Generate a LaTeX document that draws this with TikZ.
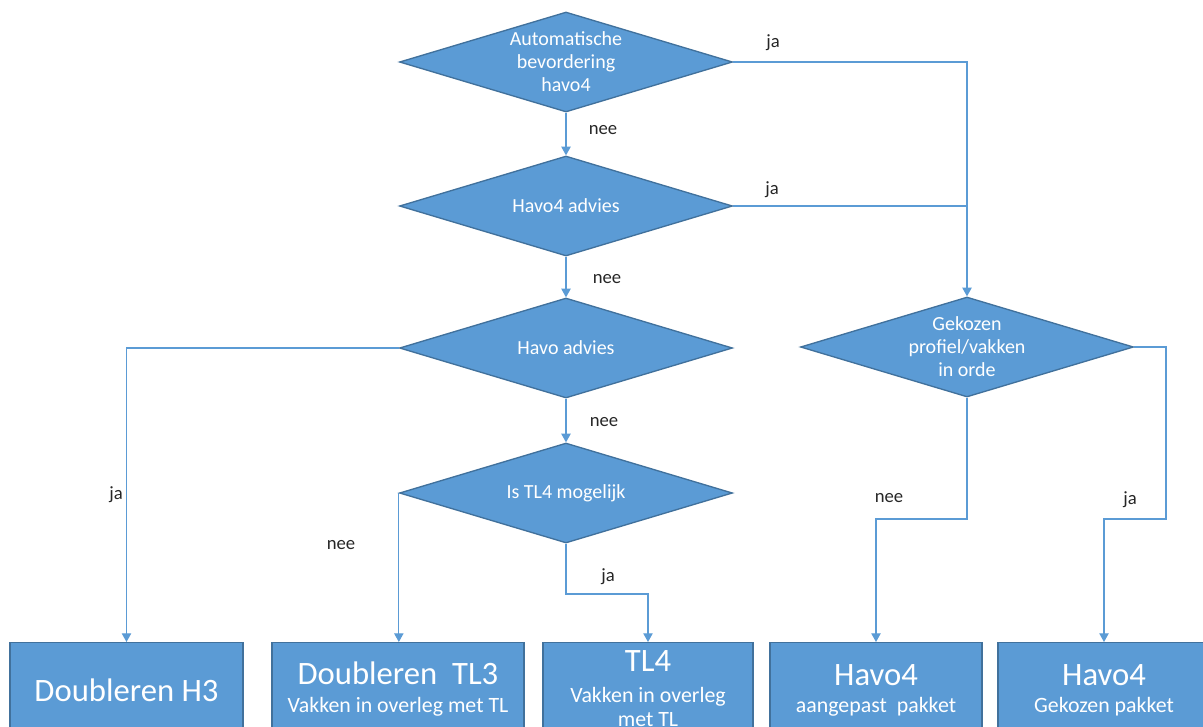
\documentclass[tikz,border=0pt]{standalone}
\usepackage{fontspec}
\setmainfont{Carlito}
\usetikzlibrary{shapes.geometric,arrows.meta}
\definecolor{boxblue}{HTML}{5B9BD5}
\definecolor{edgeblue}{HTML}{41719C}
\begin{document}
\begin{tikzpicture}[x=0.75pt,y=-0.75pt,
 dec/.style={diamond, shape aspect=3.33, fill=boxblue, draw=edgeblue, line width=1pt, minimum width=249.75pt, minimum height=75pt, inner sep=0pt, align=center, text=white, font=\fontsize{15}{17.3}\selectfont},
 outbox/.style={rectangle, fill=boxblue, draw=edgeblue, line width=1pt, anchor=north, minimum height=90pt, inner sep=0pt},
 bigtxt/.style={text=white, font=\fontsize{24.5}{28}\selectfont, inner sep=0pt},
 smalltxt/.style={text=white, font=\fontsize{16.4}{18}\selectfont, inner sep=0pt, align=center},
 lab/.style={text=black!85, font=\fontsize{14}{16}\selectfont, inner sep=0pt},
 conn/.style={draw=boxblue, line width=0.9pt, -{Triangle[width=7pt,length=6.5pt]}},
 wire/.style={draw=boxblue, line width=0.9pt}]
\useasboundingbox (0,0) rectangle (1203,726);
\clip (0,0) rectangle (1203,726);

% decisions
\node[dec] (d1) at (566,62) {Automatische\\bevordering\\havo4};
\node[dec] (d2) at (566,206) {Havo4 advies};
\node[dec] (d3) at (566,348) {Havo advies};
\node[dec] (d4) at (566,493) {Is TL4 mogelijk};
\node[dec] (d5) at (967,347) {Gekozen\\profiel/vakken\\in orde};

% outcome boxes
\node[outbox, minimum width=174.75pt] (b1) at (126.5,642) {};
\node[outbox, minimum width=189pt] (b2) at (398,642) {};
\node[outbox, minimum width=157.5pt] (b3) at (648,642) {};
\node[outbox, minimum width=159pt] (b4) at (876,642) {};
\node[outbox, minimum width=159pt] (b5) at (1104,642) {};

\node[bigtxt] (t1) at (126.5,690) {Doubleren H3};
\node[bigtxt] (t2) at (398,673) {Doubleren\ \ TL3};
\node[smalltxt] (s2) at (398,707) {Vakken in overleg met TL};
\node[bigtxt] (t3) at (648,661) {TL4};
\node[smalltxt] (s3) at (648,707) {Vakken in overleg\\met TL};
\node[bigtxt] (t4) at (876,675) {Havo4};
\node[smalltxt] (s4) at (876,707) {aangepast\ \ pakket};
\node[bigtxt] (t5) at (1104,675) {Havo4};
\node[smalltxt] (s5) at (1104,707) {Gekozen pakket};

% helper coordinates
\coordinate (k1) at (566,594);
\coordinate (k2) at (967,519);
\coordinate (k3) at (1166,347);
\coordinate (k4) at (1166,519);

% connectors
\draw[conn] (d1.south) -- (d2.north);
\draw[conn] (d1.east) -| (d5.north);
\draw[wire] (d2.east) -- (d2.east -| d5.north);
\draw[conn] (d2.south) -- (d3.north);
\draw[conn] (d3.south) -- (d4.north);
\draw[conn] (d3.west) -| (b1.north);
\draw[conn] (d4.west) -- (d4.west |- b2.north);
\draw[conn] (d4.south) -- (k1) -| (b3.north);
\draw[conn] (d5.south) -- (k2) -| (b4.north);
\draw[conn] (d5.east) -- (k3) -- (k4) -| (b5.north);

% labels
\node[lab] (l1) at (603,130) {nee};
\node[lab] (l2) at (773,43) {ja};
\node[lab] (l3) at (772,190) {ja};
\node[lab] (l4) at (607,279) {nee};
\node[lab] (l5) at (604,422) {nee};
\node[lab] (l6) at (116,495) {ja};
\node[lab] (l7) at (341,545) {nee};
\node[lab] (l8) at (608,577) {ja};
\node[lab] (l9) at (889,498) {nee};
\node[lab] (l10) at (1130,500) {ja};
\end{tikzpicture}
\end{document}
